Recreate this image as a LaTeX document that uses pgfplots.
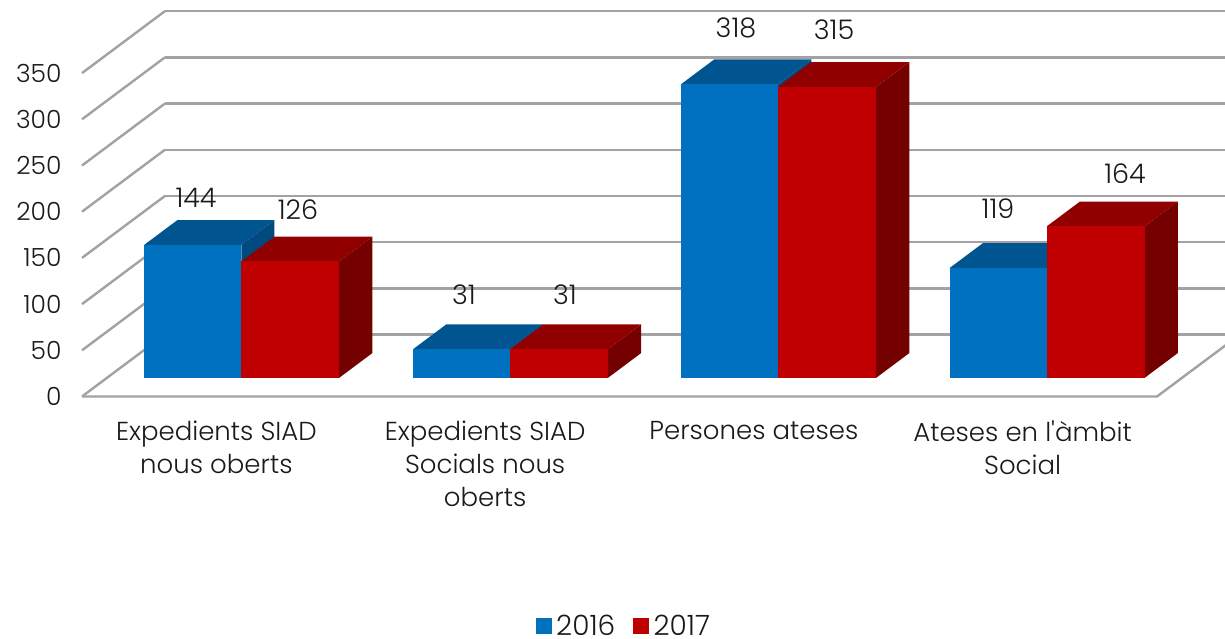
\documentclass[border=0pt]{standalone}
\usepackage{pgfplots}
\pgfplotsset{compat=1.18}
\usepackage{fontspec}
\setmainfont{Poppins}[UprightFont=*-Light]
\definecolor{bluef}{HTML}{0070C0}
\definecolor{bluet}{HTML}{005591}
\definecolor{blues}{HTML}{004A80}
\definecolor{redf}{HTML}{C00000}
\definecolor{redt}{HTML}{900000}
\definecolor{reds}{HTML}{750000}
\definecolor{gridc}{HTML}{A2A2A2}
\definecolor{txt}{HTML}{1A1A1A}
% one bar: x from, x to, value, front, top, side
\newcommand{\threedbar}[6]{%
  \addplot3[forget plot,fill=#6,draw=none] coordinates {(#2,0.3,0) (#2,0.7,0) (#2,0.7,#3) (#2,0.3,#3)};
  \addplot3[forget plot,fill=#5,draw=none] coordinates {(#1,0.3,#3) (#2,0.3,#3) (#2,0.7,#3) (#1,0.7,#3)};
  \addplot3[forget plot,fill=#4,draw=none] coordinates {(#1,0.3,0) (#2,0.3,0) (#2,0.3,#3) (#1,0.3,#3)};
}
\newcommand{\lab}[3]{\node[font=\fontsize{27}{27}\selectfont,text=txt,inner sep=0pt] at (#1pt,638pt-#2pt) {#3};}
\begin{document}
\begin{tikzpicture}[x=1pt,y=1pt]
\clip (0,0) rectangle (1225pt,638pt);
\useasboundingbox (0,0) rectangle (1225pt,638pt);
\begin{axis}[
  at={(82pt,241.5pt)},anchor=origin,
  x={(268.75pt,0pt)},y={(83pt,62pt)},z={(0pt,0.924pt)},
  xmin=0,xmax=4,ymin=0,ymax=1,zmin=0,zmax=350,
  clip=false,
  axis line style={draw=none},
  major tick length=0pt,
  ztick={0,50,...,350},
  xtick={0.5,1.5,2.5,3.5},
  ytick=\empty,
  xticklabels={Expedients SIAD\\nous oberts,Expedients SIAD\\Socials nous\\oberts,Persones ateses,Ateses en l\textquotesingle àmbit\\Social},
  x tick label style={align=center,font=\fontsize{26}{33}\selectfont,text=txt,anchor=north,yshift=-21pt},
  z tick label style={font=\fontsize{25}{25}\selectfont,text=txt,anchor=east,xshift=-17pt},
  /pgf/number format/assume math mode=true,
  zmajorgrids=true,
  grid style={gridc,line width=2.4pt},
  legend style={draw=none,fill=none,at={(0.468,-0.595)},anchor=center,legend columns=2,
     inner ysep=0pt,nodes={inner ysep=0pt},
     font=\fontsize{28}{28}\selectfont,text=txt,
     /tikz/every odd column/.append style={column sep=3pt},
     /tikz/every even column/.append style={column sep=16pt}},
  legend image code/.code={\fill[#1] (0pt,-7.5pt) rectangle (15pt,7.5pt);},
]
\addplot3[forget plot,gridc,line width=2.4pt] coordinates {(0,0,0) (4,0,0) (4,1,0)};
\threedbar{0.139}{0.500}{144}{bluef}{bluet}{blues}
\threedbar{0.500}{0.864}{126}{redf}{redt}{reds}
\threedbar{1.139}{1.500}{31}{bluef}{bluet}{blues}
\threedbar{1.500}{1.864}{31}{redf}{redt}{reds}
\threedbar{2.137}{2.498}{318}{bluef}{bluet}{blues}
\threedbar{2.498}{2.862}{315}{redf}{redt}{reds}
\threedbar{3.136}{3.497}{119}{bluef}{bluet}{blues}
\threedbar{3.497}{3.861}{164}{redf}{redt}{reds}
\addlegendimage{bluef,fill=bluef}\addlegendentry{2016}
\addlegendimage{redf,fill=redf}\addlegendentry{2017}
\end{axis}
\lab{196}{198}{144}
\lab{298}{210}{126}
\lab{464}{295}{31}
\lab{565}{295}{31}
\lab{736}{28}{318}
\lab{834}{30}{315}
\lab{998}{209}{119}
\lab{1125}{174}{164}
\end{tikzpicture}
\end{document}
